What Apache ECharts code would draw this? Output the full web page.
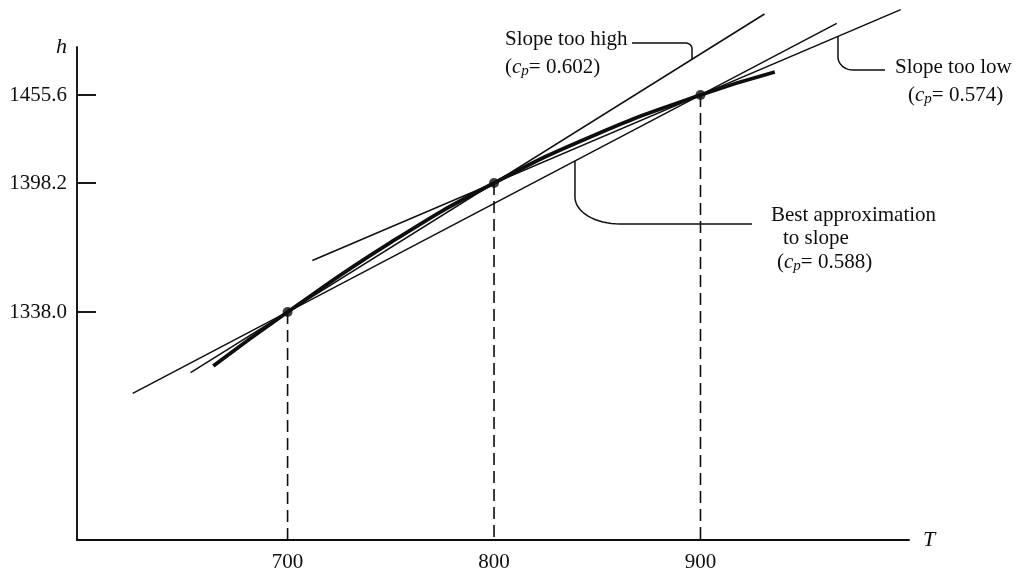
<!DOCTYPE html>
<html>
<head>
<meta charset="utf-8">
<script src="https://cdn.jsdelivr.net/npm/echarts@6/dist/echarts.min.js"></script>
<style>
  html, body { margin: 0; padding: 0; background: #fff; }
  #chart { width: 1016px; height: 573px; }
</style>
</head>
<body>
<div id="chart"></div>
<script>
// State points: temperature T and enthalpy h
const stateT = [700, 800, 900];
const stateH = [1338.0, 1398.2, 1455.6];

// Slopes of the three chords (specific heat estimates)
const cpHigh = 0.602;   // chord 700 -> 800
const cpBest = 0.588;   // chord 700 -> 900
const cpLow = 0.574;    // chord 800 -> 900

// h(T) curve samples
const curveT = [664, 700, 750, 800, 850, 900, 936];
const curveH = [1312.8, 1338.0, 1370.5, 1398.2, 1430.2, 1455.6, 1470.6];

// T ranges over which each chord line is drawn
const highSpan = [653, 931];
const bestSpan = [625, 966];
const lowSpan = [712, 997];

// Tick labels
const tTicks = [700, 800, 900];
const hTickLabels = ['1338.0', '1398.2', '1455.6'];

// ---- layout ----
// The h axis is drawn schematically (not to scale): each labelled level sits at its own height.
const hLevelUnits = [228, 357, 445];
function hToAxis(h) {
  let i = 0;
  if (h > stateH[1]) i = 1;
  const k = (hLevelUnits[i + 1] - hLevelUnits[i]) / (stateH[i + 1] - stateH[i]);
  return hLevelUnits[i] + k * (h - stateH[i]);
}

// A chord through (T0, h0) with slope cp, continued straight across span
function chordLine(T0, h0, T1, cp, span) {
  const h1 = h0 + cp * (T1 - T0);
  const y0 = hToAxis(h0), y1 = hToAxis(h1);
  const k = (y1 - y0) / (T1 - T0);
  return span.map(t => [t, y0 + k * (t - T0)]);
}
function chordAt(line, t) {
  const [a, b] = line;
  return a[1] + (b[1] - a[1]) * (t - a[0]) / (b[0] - a[0]);
}

const INK = '#0e0e0e';
const SERIF = 'Liberation Serif';
const FS = 21;

const highLine = chordLine(stateT[0], stateH[0], stateT[1], cpHigh, highSpan);
const bestLine = chordLine(stateT[0], stateH[0], stateT[2], cpBest, bestSpan);
const lowLine = chordLine(stateT[1], stateH[1], stateT[2], cpLow, lowSpan);

const thin = { color: INK, width: 1.5 };
function lineSeries(data, style, extra) {
  return Object.assign({
    type: 'line', data: data, symbol: 'none', clip: false, silent: true,
    lineStyle: style, z: 3, animation: false
  }, extra || {});
}

const series = [
  lineSeries(bestLine, thin),
  lineSeries(highLine, thin),
  lineSeries(lowLine, thin),
  lineSeries(curveT.map((t, i) => [t, hToAxis(curveH[i])]),
    { color: INK, width: 3.8 }, { smooth: 0.5, z: 4 })
];
stateT.forEach((t, i) => {
  series.push(lineSeries([[t, hToAxis(stateH[i])], [t, 0]],
    { color: INK, width: 1.6, type: [12, 6] }, { z: 2 }));
});
series.push({
  type: 'scatter', data: stateT.map((t, i) => [t, hToAxis(stateH[i])]),
  symbolSize: 10, itemStyle: { color: INK }, z: 6, silent: true, animation: false
});

const labelFont = { fontFamily: SERIF, fontSize: FS, color: INK };
const chart = echarts.init(document.getElementById('chart'), null, { renderer: 'canvas' });
chart.setOption({
  backgroundColor: '#fff',
  animation: false,
  grid: { left: 77, right: 107, top: 47, bottom: 33 },
  xAxis: {
    type: 'value', min: 598, max: 1001,
    name: 'T', nameLocation: 'end', nameGap: 14,
    nameTextStyle: { fontFamily: SERIF, fontSize: 22, fontStyle: 'italic', color: INK, align: 'left', verticalAlign: 'middle' },
    axisLine: { lineStyle: { color: INK, width: 1.9 } },
    axisTick: { show: false },
    splitLine: { show: false },
    axisLabel: Object.assign({ customValues: tTicks, margin: 12 }, labelFont)
  },
  yAxis: {
    type: 'value', min: 0, max: 493,
    name: 'h', nameLocation: 'end', nameGap: 0,
    nameTextStyle: { fontFamily: SERIF, fontSize: 22, fontStyle: 'italic', color: INK, align: 'right', verticalAlign: 'middle', padding: [0, 10, 0, 0] },
    axisLine: { lineStyle: { color: INK, width: 1.9 } },
    axisTick: { show: true, inside: true, length: 19, customValues: stateH.map(hToAxis), lineStyle: { color: INK, width: 1.9 } },
    splitLine: { show: false },
    axisLabel: Object.assign({
      customValues: stateH.map(hToAxis), margin: 10,
      formatter: function (v) {
        const idx = stateH.map(hToAxis).findIndex(u => Math.abs(u - v) < 0.5);
        return idx >= 0 ? hTickLabels[idx] : '';
      }
    }, labelFont)
  },
  series: series
});

// ---- annotations ----
function px(t, y) { return chart.convertToPixel({ xAxisIndex: 0, yAxisIndex: 0 }, [t, y]); }

// quarter-ellipse corner points
function arc(cx, cy, rx, ry, a0, a1, n) {
  const pts = [];
  for (let i = 0; i <= n; i++) {
    const a = a0 + (a1 - a0) * i / n;
    pts.push([cx + rx * Math.cos(a), cy + ry * Math.sin(a)]);
  }
  return pts;
}

const highAnchorT = 895.9, lowAnchorT = 966.6, bestAnchorT = 839.2;
const aHigh = px(highAnchorT, chordAt(highLine, highAnchorT));
const aLow = px(lowAnchorT, chordAt(lowLine, lowAnchorT));
const aBest = px(bestAnchorT, chordAt(bestLine, bestAnchorT));

// "Slope too high": horizontal from the label, turning down onto the line
const highY = 43, highR = 6;
const highPts = [[632, highY]].concat(
  arc(aHigh[0] - highR, highY + highR, highR, highR, -Math.PI / 2, 0, 6),
  [[aHigh[0], aHigh[1]]]);

// "Slope too low": down from the line, turning right to the label
const lowY = 70, lowRx = 15, lowRy = 13;
const lowPts = [[aLow[0], aLow[1]]].concat(
  arc(aLow[0] + lowRx, lowY - lowRy, lowRx, lowRy, Math.PI, Math.PI / 2, 10),
  [[885, lowY]]);

// "Best approximation": down from the line, long sweep to the right
const bestY = 224, bestRx = 45, bestRy = 27;
const bestPts = [[aBest[0], aBest[1]]].concat(
  arc(aBest[0] + bestRx, bestY - bestRy, bestRx, bestRy, Math.PI, Math.PI / 2, 16),
  [[752, bestY]]);

const rich = {
  i: { fontFamily: SERIF, fontSize: FS, fontStyle: 'italic', lineHeight: 24, fill: INK },
  sub: { fontFamily: SERIF, fontSize: 15, fontStyle: 'italic', lineHeight: 10, verticalAlign: 'bottom', fill: INK },
  n: { fontFamily: SERIF, fontSize: FS, lineHeight: 24, fill: INK }
};
function txt(str, x, y) {
  return {
    type: 'text', x: x, y: y, silent: true, z: 10,
    style: { text: str, fontFamily: SERIF, fontSize: FS, fill: INK, align: 'left', verticalAlign: 'middle', rich: rich, lineHeight: 24 }
  };
}
function cpText(v) { return '{n|(}{i|c}{sub|p}{n|= ' + v.toFixed(3) + ')}'; }
function leader(pts) {
  return { type: 'polyline', silent: true, z: 9, shape: { points: pts }, style: { stroke: INK, lineWidth: 1.5, fill: null } };
}

chart.setOption({
  graphic: [
    leader(highPts), leader(lowPts), leader(bestPts),
    txt('Slope too high', 505, 39),
    txt(cpText(cpHigh), 505, 67),
    txt('Slope too low', 895, 67),
    txt(cpText(cpLow), 908, 95),
    txt('Best approximation', 771, 215),
    txt('to slope', 783, 238),
    txt(cpText(cpBest), 777, 262)
  ]
});
</script>
</body>
</html>
